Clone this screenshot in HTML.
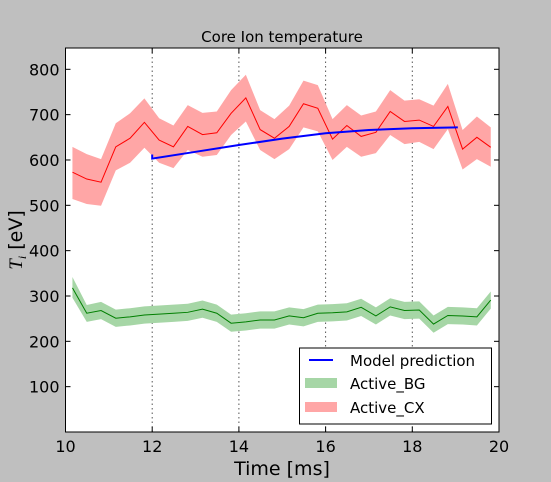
<!DOCTYPE html>
<html><head><meta charset="utf-8"><style>
body{margin:0;background:#bfbfbf;}
svg{display:block;font-family:"DejaVu Sans","Liberation Sans",sans-serif;}
</style></head><body>
<svg id="chart" width="551" height="482">
<rect x="0" y="0" width="551" height="482" fill="#bfbfbf"/>
<rect x="65.5" y="48" width="433.5" height="384" fill="#fff"/>
<g id="grid"></g>
<g id="series"></g>
<rect x="65.5" y="48" width="433.5" height="384" fill="none" stroke="#000" stroke-width="1"/>
<g id="ticks"></g>
<text x="282" y="42" text-anchor="middle" font-size="15">Core Ion temperature</text>
<text x="282" y="475" text-anchor="middle" font-size="19">Time [ms]</text>
<text transform="translate(22,240) rotate(-90)" text-anchor="middle" font-size="19"><tspan font-family="'Liberation Serif',serif" font-style="italic">T<tspan font-size="12" dy="4">i</tspan></tspan><tspan dy="-4"> [eV]</tspan></text>
<g>
<rect x="299.5" y="348" width="192" height="76" fill="#fff" stroke="#000" stroke-width="1"/>
<line x1="309" y1="360" x2="333" y2="360" stroke="#0000ff" stroke-width="2"/>
<text x="350" y="366" font-size="15">Model prediction</text>
<rect x="305" y="378" width="32" height="10" fill="#a6d6a6"/>
<text x="350" y="389" font-size="15">Active_BG</text>
<rect x="305" y="402" width="32" height="10" fill="#ffa6a6"/>
<text x="350" y="413" font-size="15">Active_CX</text>
</g>
</svg>
<script>
const times = [10.16,10.49,10.82,11.16,11.49,11.82,12.16,12.49,12.82,13.16,13.49,13.82,14.16,14.49,14.82,15.16,15.49,15.82,16.16,16.49,16.82,17.16,17.49,17.82,18.16,18.49,18.82,19.16,19.49,19.81];
const cxMean = [573,558,551,629,648,683,644,629,674,656,660,703,737,667,648,674,724,714,646,676,652,661,707,685,688,674,718,624,650,628];
const cxUpper = [629,613,602,681,703,736,692,676,721,704,707,754,788,710,690,720,775,765,690,721,698,707,754,731,734,720,768,666,696,672];
const cxLower = [514,503,499,577,594,627,594,582,622,607,611,655,685,622,602,624,672,663,600,629,607,615,655,635,640,624,668,579,602,585];
const bgMean = [318,262,268,251,254,258,260,262,264,271,262,240,243,247,247,256,252,262,263,265,275,256,276,268,269,238,257,256,254,291];
const bgUpper = [342,280,287,270,273,277,279,281,283,290,281,259,262,266,266,275,271,281,282,284,294,275,295,287,288,257,276,275,273,310];
const bgLower = [296,243,249,232,235,239,241,243,245,252,243,221,224,228,228,237,233,243,244,246,256,237,257,249,250,219,238,237,235,272];
const modelT = [12,12,13,14,15,16,17,18,19.05];
const modelV = [612,603,618,633,647,659,666,670,672];
const xTicks = [10,12,14,16,18,20];
const yTicks = [100,200,300,400,500,600,700,800];

const X0=65.5,X1=499,Y0=432,Y1=48,xmin=10,xmax=20,ymin=0,ymax=847;
function sx(t){return X0+(t-xmin)/(xmax-xmin)*(X1-X0);}
function sy(v){return Y0-(v-ymin)/(ymax-ymin)*(Y0-Y1);}
const NS="http://www.w3.org/2000/svg";
function mk(tag,attrs,parent){const e=document.createElementNS(NS,tag);for(const k in attrs)e.setAttribute(k,attrs[k]);parent.appendChild(e);return e;}
const grid=document.getElementById('grid'),series=document.getElementById('series'),ticks=document.getElementById('ticks');

xTicks.forEach(t=>{
  if(t>xmin&&t<xmax){
    const g=mk('line',{x1:sx(t),x2:sx(t),y1:Y1,y2:Y0,stroke:'#555','stroke-dasharray':'1.5,3','stroke-width':1},grid);
    
    
  }
  const a=mk('line',{x1:sx(t),x2:sx(t),y1:Y0,y2:Y0-5,stroke:'#000'},ticks);
  
  
  const b=mk('line',{x1:sx(t),x2:sx(t),y1:Y1,y2:Y1+5,stroke:'#000'},ticks);
  
  
  const l=mk('text',{x:sx(t),y:Y0+20,'text-anchor':'middle','font-size':16},ticks);
  l.textContent=t;
  
  
});
yTicks.forEach(v=>{
  const a=mk('line',{x1:X0,x2:X0+5,y1:sy(v),y2:sy(v),stroke:'#000'},ticks);
  
  
  const b=mk('line',{x1:X1,x2:X1-5,y1:sy(v),y2:sy(v),stroke:'#000'},ticks);
  
  
  const l=mk('text',{x:X0-6,y:sy(v)+6,'text-anchor':'end','font-size':16},ticks);
  l.textContent=v;
  
  
});

function band(up,lo,fill,name){
  let d='M'+times.map((t,i)=>sx(t)+','+sy(up[i])).join('L');
  for(let i=times.length-1;i>=0;i--)d+='L'+sx(times[i])+','+sy(lo[i]);
  const p=mk('path',{d:d+'Z',fill:fill,stroke:'none'},series);
  
  
}
function line(ts,vs,color,w,name){
  const p=mk('polyline',{points:ts.map((t,i)=>sx(t)+','+sy(vs[i])).join(' '),fill:'none',stroke:color,'stroke-width':w},series);
  
  
}
band(cxUpper,cxLower,'#ffa6a6','cx-band');
line(times,cxMean,'#ff0000',1,'cx-mean-line');
band(bgUpper,bgLower,'#a6d6a6','bg-band');
line(times,bgMean,'#007f00',1,'bg-mean-line');
line(modelT,modelV,'#0000ff',2,'model-prediction-line');
</script>
</body></html>
